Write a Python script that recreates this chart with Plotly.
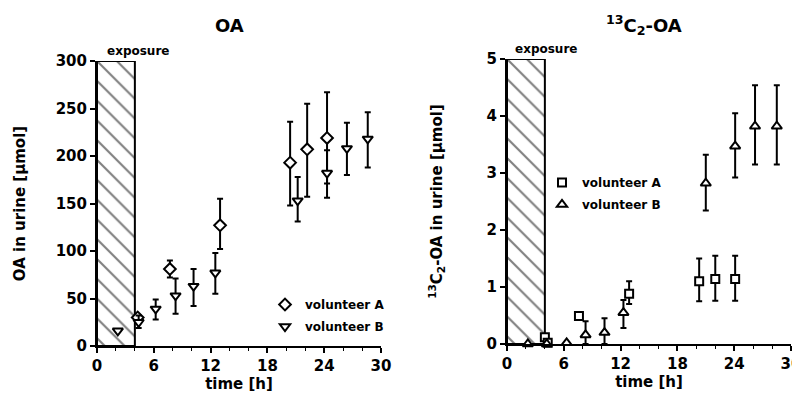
import plotly.graph_objects as go

# ---- data ----
exposure = [0, 4]  # h

# OA panel
oaA_t = [4.3, 7.7, 13.0, 20.4, 22.2, 24.3]
oaA_v = [30, 81, 127, 193, 207, 219]
oaA_lo = [0, 9, 25, 45, 50, 48]
oaA_hi = [0, 9, 28, 43, 48, 48]

oaB_t = [2.2, 4.4, 6.2, 8.3, 10.2, 12.5, 21.2, 24.3, 26.4, 28.6]
oaB_v = [16, 25, 39, 53, 63, 77, 153, 182, 208, 218]
oaB_lo = [0, 6, 11, 19, 21, 22, 22, 26, 28, 30]
oaB_hi = [0, 7, 10, 18, 18, 21, 25, 24, 27, 28]

# 13C2-OA panel
cA_t = [4.0, 4.3, 7.6, 12.9, 20.3, 22.0, 24.1]
cA_v = [0.12, 0.02, 0.49, 0.88, 1.10, 1.14, 1.14]
cA_lo = [0, 0, 0, 0.18, 0.35, 0.38, 0.38]
cA_hi = [0, 0, 0, 0.22, 0.40, 0.41, 0.41]

cB_t = [2.2, 4.2, 6.3, 8.3, 10.3, 12.3, 21.0, 24.1, 26.2, 28.5]
cB_v = [0.0, 0.0, 0.02, 0.16, 0.20, 0.55, 2.82, 3.47, 3.82, 3.82]
cB_lo = [0, 0, 0, 0.16, 0.20, 0.27, 0.48, 0.55, 0.67, 0.67]
cB_hi = [0, 0, 0, 0.24, 0.25, 0.22, 0.50, 0.58, 0.72, 0.72]

x_ticks = [0, 6, 12, 18, 24, 30]
oa_ticks = [0, 50, 100, 150, 200, 250, 300]
c_ticks = [0, 1, 2, 3, 4, 5]

FONT = "DejaVu Sans, sans-serif"

# page has an 8px body margin; figure is sized to fit inside the window
W, H, OFF = 792, 387, 8
fx = lambda px: (px - OFF) / W
fy = lambda py: 1 - (py - OFF) / H

fig = go.Figure()

def exposure_bar(xa, ya, top):
    fig.add_trace(go.Bar(
        x=[(exposure[0] + exposure[1]) / 2], y=[top], width=[exposure[1] - exposure[0]],
        base=0, xaxis=xa, yaxis=ya, showlegend=False, hoverinfo="skip",
        marker=dict(color="white", line=dict(color="black", width=2),
                    pattern=dict(shape="\\", fgcolor="black", bgcolor="white",
                                 size=14, solidity=0.15)),
    ))

exposure_bar("x", "y", oa_ticks[-1])
exposure_bar("x2", "y2", c_ticks[-1])

def err(lo, hi):
    return dict(type="data", symmetric=False, array=hi, arrayminus=lo,
                color="black", thickness=2, width=3)

mk = lambda sym, size: dict(symbol=sym, size=size, color="white",
                            line=dict(color="black", width=2))

fig.add_trace(go.Scatter(x=oaA_t, y=oaA_v, mode="markers", name="volunteer A",
                         error_y=err(oaA_lo, oaA_hi), marker=mk("diamond", 9),
                         xaxis="x", yaxis="y", legend="legend", legendgroup="a1", cliponaxis=False))
fig.add_trace(go.Scatter(x=oaB_t, y=oaB_v, mode="markers", name="volunteer B",
                         error_y=err(oaB_lo, oaB_hi), marker=mk("triangle-down", 9),
                         xaxis="x", yaxis="y", legend="legend", legendgroup="b1", cliponaxis=False))
fig.add_trace(go.Scatter(x=cA_t, y=cA_v, mode="markers", name="volunteer A",
                         error_y=err(cA_lo, cA_hi), marker=mk("square", 8),
                         xaxis="x2", yaxis="y2", legend="legend2", legendgroup="a2", cliponaxis=False))
fig.add_trace(go.Scatter(x=cB_t, y=cB_v, mode="markers", name="volunteer B",
                         error_y=err(cB_lo, cB_hi), marker=mk("triangle-up", 9),
                         xaxis="x2", yaxis="y2", legend="legend2", legendgroup="b2", cliponaxis=False))

bold = lambda size: dict(family=FONT, size=size, color="black", weight="bold")

xcommon = dict(range=[0, 30], tickvals=x_ticks, ticktext=[str(t) for t in x_ticks],
               showline=True, linecolor="black", linewidth=2, ticks="outside",
               ticklen=5, tickwidth=2, tickcolor="black", showgrid=False, zeroline=False,
               minor=dict(dtick=2, ticks="outside", ticklen=3, tickwidth=1, tickcolor="black"),
               tickfont=bold(15), ticklabeloverflow="allow",
               title=dict(text="time [h]", font=bold(15), standoff=2),
               automargin=False, fixedrange=True)
ycommon = dict(showline=True, linecolor="black", linewidth=2, ticks="outside",
               ticklen=5, tickwidth=2, tickcolor="black", showgrid=False, zeroline=False,
               tickfont=bold(15), automargin=False, fixedrange=True)

leg = dict(xanchor="left", yanchor="top", bgcolor="rgba(0,0,0,0)", font=bold(12),
           itemwidth=30, tracegroupgap=3)

fig.update_layout(
    width=W, height=H, margin=dict(l=0, r=0, t=0, b=0),
    paper_bgcolor="white", plot_bgcolor="white", barmode="overlay",
    font=dict(family=FONT, color="black"),
    xaxis=dict(domain=[fx(97), fx(381)], anchor="y", **xcommon),
    yaxis=dict(domain=[fy(346), fy(61)], anchor="x", range=[0, 300], tickvals=oa_ticks,
               title=dict(text="OA in urine [µmol]", standoff=26, font=bold(15)),
               **ycommon),
    xaxis2=dict(domain=[fx(507), fx(791)], anchor="y2", **xcommon),
    yaxis2=dict(domain=[fy(344), fy(59)], anchor="x2", range=[0, 5], tickvals=c_ticks,
                title=dict(text="<sup>13</sup>C<sub>2</sub>-OA in urine [µmol]", standoff=40,
                           font=bold(15)),
                **ycommon),
    legend=dict(x=fx(257 + OFF), y=fy(290), **leg),
    legend2=dict(x=fx(534 + OFF), y=fy(168), **leg),
    annotations=[
        dict(text="OA", x=fx(229), y=fy(25), xref="paper", yref="paper", showarrow=False,
             xanchor="center", yanchor="middle", font=bold(18)),
        dict(text="<sup>13</sup>C<sub>2</sub>-OA", x=fx(644), y=fy(25), xref="paper", yref="paper",
             xanchor="center", yanchor="middle", showarrow=False, font=bold(18)),
        dict(text="exposure", x=0.85, y=1.0, xref="x", yref="y domain", xanchor="left",
             yanchor="bottom", showarrow=False, yshift=1, font=bold(12)),
        dict(text="exposure", x=0.63, y=1.0, xref="x2", yref="y2 domain", xanchor="left",
             yanchor="bottom", showarrow=False, yshift=1, font=bold(12)),
    ],
)

fig.write_html("out.html")
